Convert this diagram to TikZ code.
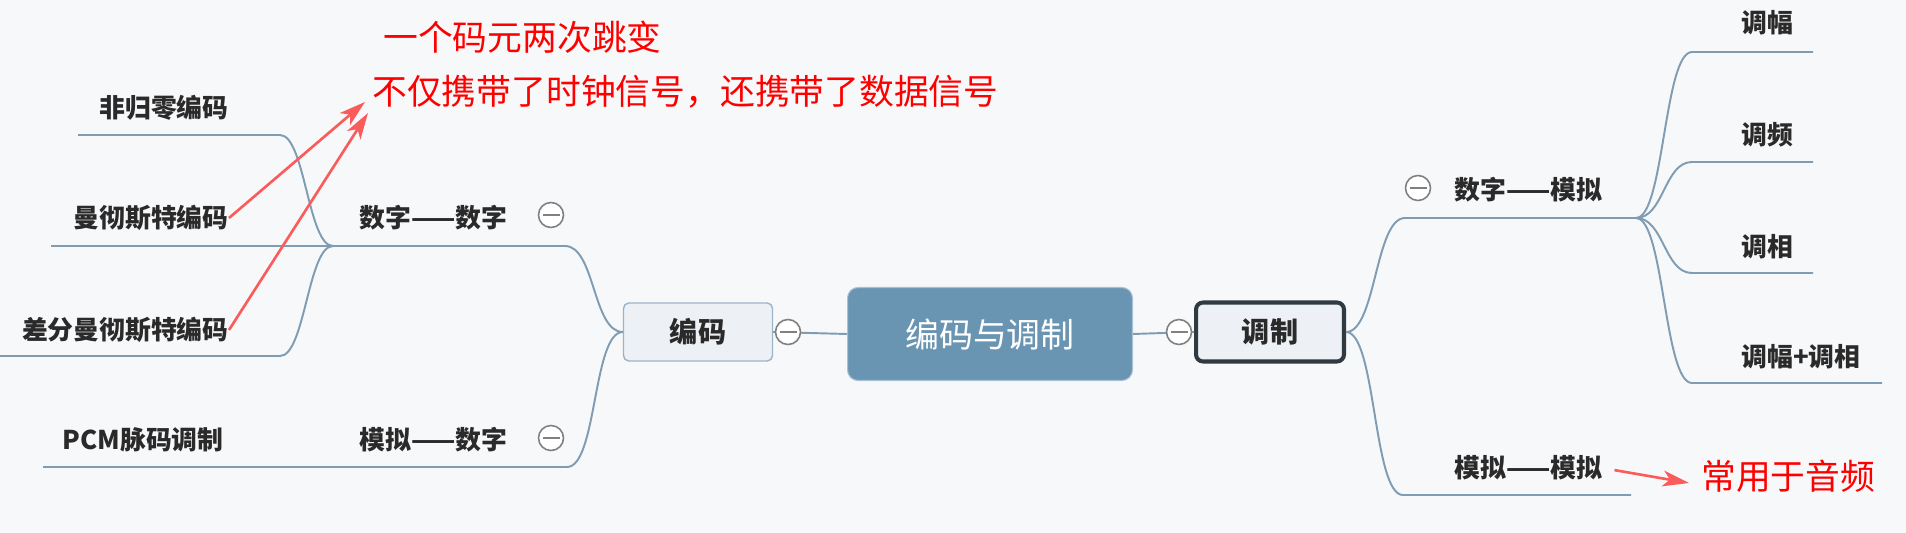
\documentclass[tikz,border=0pt]{standalone}
\usepackage{fontspec}
\setmainfont{Noto Sans CJK SC}
\usetikzlibrary{arrows.meta}

\definecolor{bgcol}{HTML}{F7F8FA}
\definecolor{branchcol}{HTML}{7F9CB3}
\definecolor{rootcol}{HTML}{6A95B2}
\definecolor{rootedge}{HTML}{A8C1D4}
\definecolor{subfill}{HTML}{EDF1F6}
\definecolor{subedge}{HTML}{9DB4C8}
\definecolor{darkedge}{HTML}{2F3A41}
\definecolor{notecol}{HTML}{FA5C5C}
\definecolor{labelcol}{HTML}{2A2A2A}

\begin{document}
\begin{tikzpicture}[x=0.02cm,y=-0.02cm,
		branch/.style={draw=branchcol, line width=1.1pt},
		topic/.style={inner sep=0pt, text=labelcol, font=\fontsize{14.7}{17}\selectfont\bfseries},
		sub/.style={draw=subedge, fill=subfill, line width=0.8pt, rounded corners=3pt, minimum height=1.16cm, minimum width=2.98cm, text=labelcol, font=\fontsize{16}{19}\selectfont\bfseries},
		fold/.style={circle, draw=gray, fill=white, line width=0.9pt, minimum size=0.5cm, inner sep=0pt,
			path picture={\draw[gray, line width=0.9pt] ([xshift=-0.17cm]path picture bounding box.center) -- ([xshift=0.17cm]path picture bounding box.center);}},
		note/.style={inner sep=0pt, text=red, font=\fontsize{19.8}{23}\selectfont},
		notearrow/.style={draw=notecol, line width=1.5pt, -{Stealth[length=15pt,width=9pt,inset=4pt]}}]
		\fill[bgcol] (0,0) rectangle (1906,533);
		\useasboundingbox (0,0) rectangle (1906,533);
		% centre
		\node[fill=rootcol, draw=rootedge, line width=0.6pt, rounded corners=6pt, minimum width=5.7cm, minimum height=1.86cm, text=white, font=\fontsize{19.3}{23}\selectfont] (root) at (990,334) {编码与调制};
		\node[sub] (bm) at (698,332) {编码};
		\node[sub, draw=darkedge, line width=2.3pt, rounded corners=4pt, minimum width=2.96cm, minimum height=1.18cm] (tz) at (1270,332) {调制};
		% left topics
		\node[topic, anchor=east] (nrz) at (229,108) {非归零编码};
		\node[topic, anchor=east] (mc) at (229,218) {曼彻斯特编码};
		\node[topic, anchor=east] (dmc) at (229,330) {差分曼彻斯特编码};
		\node[topic, anchor=east] (pcm) at (224,440) {PCM脉码调制};
		\node[topic, anchor=west] (dd) at (359,218) {数字——数字};
		\node[topic, anchor=west] (ad) at (359,440) {模拟——数字};
		% right topics
		\node[topic, anchor=west] (da) at (1454,190) {数字——模拟};
		\node[topic, anchor=west] (aa) at (1454,468) {模拟——模拟};
		\node[topic, anchor=west] (am) at (1741,23) {调幅};
		\node[topic, anchor=west] (fm) at (1741,135) {调频};
		\node[topic, anchor=west] (pm) at (1741,247) {调相};
		\node[topic, anchor=west] (apm) at (1741,357) {调幅+调相};
		% notes
		\node[note, anchor=west] (note1) at (383,37) {一个码元两次跳变};
		\node[note, anchor=west] (note2) at (372,92) {不仅携带了时钟信号，还携带了数据信号};
		\node[note, anchor=west] (note3) at (1701,476) {常用于音频};
		% line ends
		\coordinate (nrz-l) at (78,135);   \coordinate (nrz-r) at (280,135);
		\coordinate (mc-l) at (51,246);
		\coordinate (dmc-l) at (0,356);    \coordinate (dmc-r) at (280,356);
		\coordinate (dd-l) at (333,246);   \coordinate (dd-r) at (565,246);
		\coordinate (pcm-l) at (43,467);   \coordinate (ad-r) at (567,467);
		\coordinate (da-l) at (1405,218);  \coordinate (da-r) at (1636,218);
		\coordinate (aa-l) at (1403,495);  \coordinate (aa-r) at (1631,495);
		\coordinate (am-l) at (1692,52);   \coordinate (am-r) at (1813,52);
		\coordinate (fm-l) at (1692,162);  \coordinate (fm-r) at (1813,162);
		\coordinate (pm-l) at (1692,273);  \coordinate (pm-r) at (1813,273);
		\coordinate (apm-l) at (1692,383); \coordinate (apm-r) at (1882,383);
		% branches
		\draw[branch] (bm.east) -- (root.west);
		\draw[branch] (root.east) -- (tz.west);
		\draw[branch] (nrz-l) -- (nrz-r) .. controls +(25,0) and +(-25,0) .. (dd-l);
		\draw[branch] (mc-l) -- (dd-l);
		\draw[branch] (dmc-l) -- (dmc-r) .. controls +(25,0) and +(-25,0) .. (dd-l);
		\draw[branch] (dd-l) -- (dd-r) .. controls +(30,0) and +(-30,0) .. (bm.west);
		\draw[branch] (pcm-l) -- (ad-r) .. controls +(30,0) and +(-30,0) .. (bm.west);
		\draw[branch] (tz.east) .. controls +(30,0) and +(-30,0) .. (da-l) -- (da-r);
		\draw[branch] (tz.east) .. controls +(30,0) and +(-30,0) .. (aa-l) -- (aa-r);
		\foreach \c in {am,fm,pm,apm}
			\draw[branch] (da-r) .. controls +(28,0) and +(-28,0) .. (\c-l) -- (\c-r);
		% fold icons
		\node[fold] (f1) at (551,215) {};
		\node[fold] (f2) at (551,438) {};
		\node[fold] (f3) at (788,332) {};
		\node[fold] (f4) at (1179,332) {};
		\node[fold] (f5) at (1418,188) {};
		% note arrows
		\coordinate (tip1) at (365,102);
		\coordinate (tip2) at (368,113);
		\coordinate (tip3) at (1689,483);
		\draw[notearrow] (mc.east) -- (tip1);
		\draw[notearrow] (dmc.east) -- (tip2);
		\draw[notearrow, shorten <=7pt] (aa.east) -- (tip3);
	\end{tikzpicture}
\end{document}
